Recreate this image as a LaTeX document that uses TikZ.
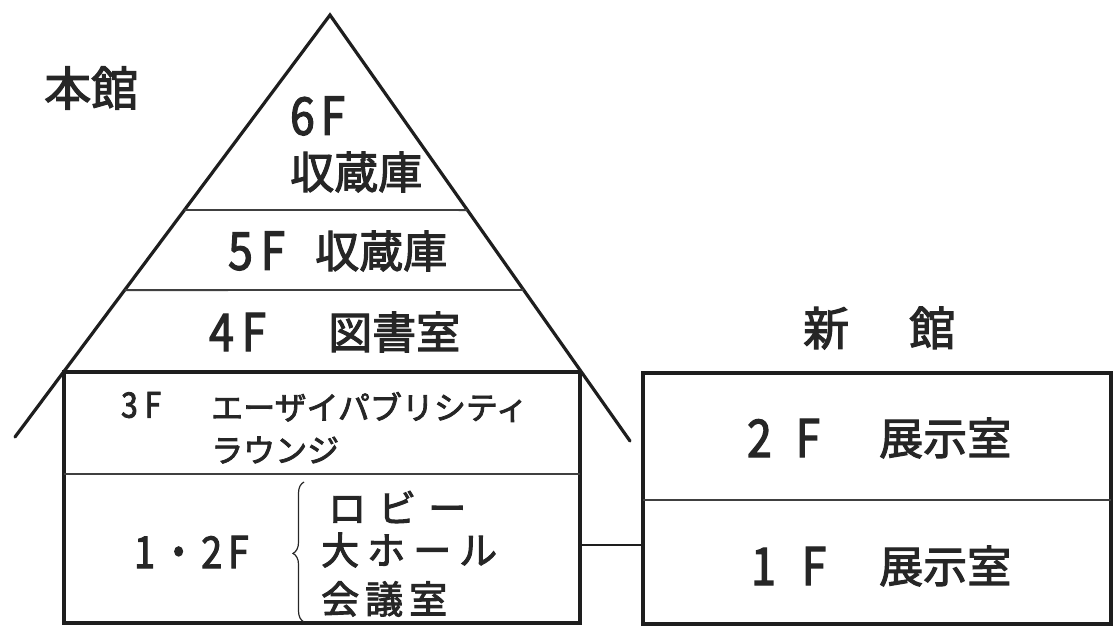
\documentclass[tikz,border=0pt]{standalone}
\usepackage{fontspec}
\newfontfamily\jp{Noto Sans CJK JP}[FakeBold=2.5]
\newfontfamily\jpnum{Noto Sans CJK JP}[FakeBold=2.5, FakeStretch=0.85]
\usetikzlibrary{calc,decorations.pathreplacing}
\definecolor{ink}{HTML}{1E1E1E}
\definecolor{txt}{HTML}{262626}
\newcommand{\fs}[1]{\fontsize{#1}{#1}\selectfont}
\tikzset{
  roof/.style={line width=3.2pt, color=ink, line cap=round},
  wall/.style={draw=ink, line width=3.4pt, inner sep=0pt, outer sep=0pt},
  floorline/.style={line width=1.8pt, color=ink!85},
  lbl/.style={anchor=west, inner sep=0pt, text=txt, font=\jp},
  big/.style={lbl, font=\jp\fs{44}},
  num/.style={lbl, font=\jpnum\fs{52}},
  small/.style={lbl, font=\jp\fs{32}},
  smallnum/.style={lbl, font=\jpnum\fs{35}},
  mid/.style={lbl, font=\jp\fs{38}},
  midnum/.style={lbl, font=\jpnum\fs{44}},
}
\begin{document}
\begin{tikzpicture}[x=1pt,y=-1pt]
\useasboundingbox (0,0) rectangle (1115,628);
% roof
\coordinate (apex) at (330,15);
\coordinate (roofL) at (15,437);
\coordinate (roofR) at (630,441);
% main body
\node[wall, minimum width=516pt, minimum height=251pt] (main) at (322,497.5) {};
% new building
\node[wall, minimum width=468pt, minimum height=251pt] (annex) at (877,498.5) {};
\draw[roof] (roofL) -- (apex) -- (roofR);
% floor lines in roof
\draw[floorline] ($(apex)!0.462!(roofL)$) -- ($(apex)!0.458!(roofR)$);
\draw[floorline] ($(apex)!0.652!(roofL)$) -- ($(apex)!0.6455!(roofR)$);
\draw[floorline] (main.west |- 0,474) -- (main.east |- 0,474);
\draw[floorline] (annex.west |- 0,500) -- (annex.east |- 0,500);
% connector between buildings
\draw[line width=2.4pt, color=ink] (main.east |- 0,545) -- (annex.west |- 0,545);
% labels
\node[lbl, font=\jp\fs{47}] (honkan) at (44,88) {本館};
\node[num] (f6) at (290,116) {6\kern6pt F};
\node[big] (r6) at (290,172) {収蔵庫};
\node[num] (f5) at (228,251) {5\kern8pt F};
\node[big] (r5) at (315,251) {収蔵庫};
\node[num] (f4) at (209,332) {4\kern8pt F};
\node[big] (r4) at (328,332) {図書室};
\node[smallnum] (f3) at (121,405) {3\kern7pt F};
\node[small] (r3a) at (211,407) {エーザイパブリシティ};
\node[small] (r3b) at (211,450) {ラウンジ};
\node[midnum] (f12) at (134,552) {1\kern5pt・\kern4pt 2\kern6pt F};
\draw[line width=1.2pt, color=txt, decorate, decoration={brace, amplitude=11pt, aspect=0.49}]
  (304,622) -- (304,482);
\node[mid] (lobby) at (328,507) {ロ\kern12pt ビ\kern12pt ー};
\node[mid] (hall) at (321,550) {大\kern8pt ホ\kern8pt ー\kern8pt ル};
\node[mid] (conf) at (321,599) {会\kern6pt 議\kern6pt 室};
\node[lbl, font=\jp\fs{46}] (shinkan) at (803,328) {新\kern60pt 館};
\node[num] (nf2) at (747,438) {2\kern24pt F};
\node[big] (nr2) at (879,438) {展示室};
\node[num] (nf1) at (751,566) {1\kern26pt F};
\node[big] (nr1) at (879,566) {展示室};
\end{tikzpicture}
\end{document}
